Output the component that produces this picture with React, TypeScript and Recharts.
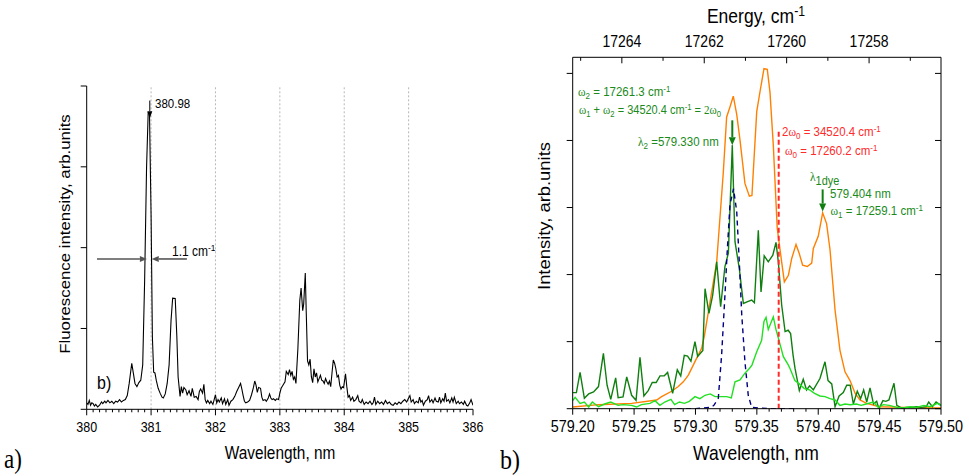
import React from 'react';
import { LineChart, Line, XAxis, YAxis, ReferenceLine } from 'recharts';

const FONT = "Arial, 'Liberation Sans', Helvetica, sans-serif";
const SERIF = "'Times New Roman', 'Liberation Serif', serif";
const STRETCH = 1.15; // the source figure is a bit taller than wide, text too

// ---- panel a) fluorescence spectrum
const aWavelength = [
    380.00, 380.02, 380.04, 380.06, 380.08, 380.10, 380.12, 380.14, 380.17, 380.20, 380.23, 380.25, 380.28, 380.30,
    380.33, 380.36, 380.39, 380.42, 380.45, 380.48, 380.51, 380.54, 380.57, 380.60, 380.63, 380.66, 380.70, 380.72,
    380.75, 380.78, 380.81, 380.84, 380.87, 380.90, 380.93, 380.955, 380.975, 381.00, 381.02, 381.04, 381.06, 381.08,
    381.11, 381.14, 381.17, 381.19, 381.22, 381.25, 381.28, 381.31, 381.335, 381.375, 381.40, 381.42, 381.45, 381.47,
    381.49, 381.51, 381.54, 381.56, 381.59, 381.62, 381.64, 381.67, 381.70, 381.73, 381.75, 381.77, 381.80, 381.82,
    381.84, 381.86, 381.88, 381.91, 381.93, 381.96, 381.98, 382.00, 382.02, 382.04, 382.06, 382.09, 382.11, 382.14,
    382.16, 382.19, 382.21, 382.24, 382.27, 382.30, 382.33, 382.36, 382.39, 382.41, 382.43, 382.45, 382.47, 382.50,
    382.53, 382.56, 382.59, 382.61, 382.63, 382.65, 382.67, 382.70, 382.72, 382.74, 382.77, 382.79, 382.82, 382.84,
    382.86, 382.88, 382.90, 382.93, 382.95, 382.98, 383.00, 383.02, 383.05, 383.08, 383.10, 383.13, 383.15, 383.17,
    383.19, 383.21, 383.23, 383.25, 383.28, 383.31, 383.33, 383.355, 383.37, 383.395, 383.41, 383.43, 383.45, 383.47,
    383.49, 383.51, 383.53, 383.55, 383.57, 383.59, 383.61, 383.63, 383.65, 383.67, 383.69, 383.71, 383.73, 383.75,
    383.77, 383.79, 383.81, 383.83, 383.85, 383.87, 383.89, 383.91, 383.93, 383.95, 383.97, 383.99, 384.02, 384.04,
    384.06, 384.08, 384.10, 384.13, 384.15, 384.18, 384.21, 384.23, 384.26, 384.28, 384.31, 384.34, 384.37, 384.40,
    384.43, 384.45, 384.47, 384.49, 384.52, 384.55, 384.58, 384.61, 384.64, 384.67, 384.70, 384.73, 384.76, 384.79,
    384.82, 384.85, 384.88, 384.91, 384.94, 384.97, 385.00, 385.02, 385.04, 385.07, 385.09, 385.12, 385.15, 385.17,
    385.19, 385.21, 385.23, 385.26, 385.29, 385.31, 385.33, 385.36, 385.38, 385.41, 385.43, 385.46, 385.48, 385.50,
    385.53, 385.55, 385.57, 385.59, 385.62, 385.64, 385.67, 385.69, 385.71, 385.74, 385.77, 385.79, 385.82, 385.85,
    385.87, 385.90, 385.92, 385.95, 385.97, 386.00
];
const aIntensity = [
    0.08, 0.06, 0.11, 0.05, 0.08, 0.07, 0.04, 0.06, 0.03, 0.05, 0.09, 0.07, 0.10, 0.08,
    0.11, 0.08, 0.10, 0.07, 0.10, 0.09, 0.12, 0.09, 0.11, 0.12, 0.17, 0.32, 0.57, 0.47,
    0.32, 0.28, 0.33, 0.36, 0.55, 1.60, 3.00, 3.67, 3.67, 2.40, 0.90, 0.46, 0.45, 0.36,
    0.26, 0.20, 0.15, 0.14, 0.19, 0.32, 0.55, 1.10, 1.375, 1.37, 0.90, 0.40, 0.16, 0.28,
    0.20, 0.27, 0.24, 0.18, 0.23, 0.16, 0.26, 0.15, 0.16, 0.12, 0.22, 0.25, 0.20, 0.31,
    0.12, 0.08, 0.11, 0.07, 0.10, 0.06, 0.12, 0.18, 0.08, 0.12, 0.09, 0.14, 0.07, 0.13,
    0.06, 0.12, 0.05, 0.10, 0.12, 0.16, 0.22, 0.27, 0.32, 0.25, 0.17, 0.10, 0.08, 0.09,
    0.11, 0.18, 0.27, 0.35, 0.30, 0.21, 0.27, 0.26, 0.15, 0.11, 0.12, 0.10, 0.14, 0.19,
    0.14, 0.12, 0.13, 0.11, 0.13, 0.12, 0.20, 0.26, 0.30, 0.34, 0.47, 0.43, 0.49, 0.42,
    0.47, 0.37, 0.40, 0.32, 0.75, 1.35, 1.50, 1.22, 1.30, 1.685, 1.20, 0.60, 0.55, 0.62,
    0.40, 0.33, 0.50, 0.40, 0.45, 0.34, 0.38, 0.42, 0.36, 0.35, 0.32, 0.38, 0.34, 0.31,
    0.35, 0.28, 0.45, 0.61, 0.57, 0.50, 0.40, 0.42, 0.30, 0.25, 0.28, 0.27, 0.44, 0.28,
    0.15, 0.17, 0.11, 0.15, 0.10, 0.12, 0.17, 0.10, 0.08, 0.12, 0.06, 0.09, 0.07, 0.10,
    0.06, 0.08, 0.15, 0.06, 0.10, 0.07, 0.09, 0.06, 0.11, 0.07, 0.09, 0.06, 0.05, 0.08,
    0.06, 0.09, 0.07, 0.10, 0.12, 0.09, 0.14, 0.17, 0.09, 0.12, 0.07, 0.10, 0.08, 0.15,
    0.09, 0.11, 0.05, 0.10, 0.12, 0.17, 0.09, 0.12, 0.08, 0.14, 0.10, 0.09, 0.15, 0.08,
    0.13, 0.10, 0.20, 0.10, 0.12, 0.08, 0.14, 0.09, 0.15, 0.07, 0.10, 0.07, 0.09, 0.06,
    0.10, 0.05, 0.04, 0.08, 0.12, 0.05
];
const aTickLabels = [380, 381, 382, 383, 384, 385, 386];
const aGridLines = [381, 382, 383, 384, 385];
const aYTicks = [0, 1, 2, 3, 4];

// ---- panel b) three spectra + fitted line
const bOrangeWl = [
    579.200, 579.221, 579.248, 579.2684, 579.2724, 579.2806, 579.286, 579.2901, 579.2942, 579.2982, 579.3009, 579.305,
    579.3072, 579.3173, 579.3227, 579.3254, 579.3281, 579.3308, 579.3336, 579.3363, 579.3403, 579.3439, 579.346,
    579.3499, 579.3526, 579.3558, 579.3585, 579.3607, 579.3634, 579.3666, 579.3702, 579.3724, 579.3757, 579.3784,
    579.3819, 579.3846, 579.3873, 579.3911, 579.3947, 579.396, 579.400, 579.4036, 579.4068, 579.4096, 579.4137,
    579.4177, 579.4218, 579.4259, 579.430, 579.434, 579.4394, 579.450, 579.470, 579.500
];
const bOrangeInt = [
    0.025, 0.06, 0.08, 0.13, 0.18, 0.26, 0.33, 0.40, 0.50, 0.65, 0.75, 0.90,
    1.08, 2.19, 3.53, 4.35, 4.50, 4.66, 4.39, 4.00, 3.36, 3.17, 3.18,
    4.43, 4.73, 5.07, 5.06, 4.72, 3.93, 2.69, 2.19, 1.89, 1.99, 2.24,
    2.45, 2.31, 2.14, 2.12, 2.17, 2.39, 2.57, 2.92, 2.76, 2.37, 1.47,
    0.87, 0.55, 0.42, 0.23, 0.13, 0.08, 0.03, 0.02, 0.01
];
const bDarkWl = [
    579.200, 579.203, 579.206, 579.2095, 579.213, 579.217, 579.221, 579.225, 579.228, 579.231, 579.235, 579.237,
    579.241, 579.244, 579.248, 579.2516, 579.2548, 579.258, 579.2615, 579.2648, 579.268, 579.2711, 579.2746, 579.2773,
    579.2814, 579.2852, 579.288, 579.2909, 579.2936, 579.2963, 579.2996, 579.3018, 579.306, 579.3078, 579.311, 579.314,
    579.3173, 579.3205, 579.324, 579.3268, 579.330, 579.3322, 579.3357, 579.339, 579.343, 579.3458, 579.348, 579.3512,
    579.3534, 579.356, 579.3593, 579.363, 579.3656, 579.3675, 579.3702, 579.373, 579.3755, 579.3775, 579.3795,
    579.3811, 579.3846, 579.3878, 579.3905, 579.393, 579.396, 579.4014, 579.4055, 579.408, 579.411, 579.4137, 579.417,
    579.4204, 579.4232, 579.426, 579.4286, 579.4318, 579.4345, 579.437, 579.4395, 579.4422, 579.445, 579.4476,
    579.4494, 579.4527, 579.455, 579.4576, 579.4617, 579.464, 579.468, 579.472, 579.476, 579.480, 579.484, 579.488,
    579.490, 579.493, 579.496, 579.500
];
const bDarkInt = [
    0.24, 0.24, 0.54, 0.155, 0.22, 0.25, 0.33, 0.825, 0.35, 0.14, 0.46, 0.165,
    0.175, 0.475, 0.20, 0.125, 0.765, 0.19, 0.27, 0.39, 0.39, 0.49, 0.49, 0.54,
    0.23, 0.58, 0.49, 0.795, 0.785, 0.71, 1.00, 0.78, 0.87, 1.79, 1.42, 1.69,
    2.19, 1.52, 2.12, 2.32, 3.93, 2.49, 2.09, 1.57, 1.60, 1.62, 1.58, 2.66,
    1.74, 2.28, 2.19, 2.29, 2.48, 2.19, 1.55, 1.15, 1.17, 1.12, 0.80,
    0.60, 0.27, 0.44, 0.28, 0.34, 0.28, 0.45, 0.70, 0.42, 0.37, 0.03, 0.19,
    0.24, 0.35, 0.35, 0.07, 0.26, 0.15, 0.28, 0.10, 0.31, 0.07, 0.11,
    0.00, 0.12, 0.11, 0.13, 0.38, 0.05, 0.01, 0.02, 0.02, 0.03, 0.02, 0.03,
    0.10, 0.03, 0.10, 0.05
];
const bLightWl = [
    579.200, 579.202, 579.206, 579.2095, 579.213, 579.216, 579.221, 579.226, 579.231, 579.237, 579.241, 579.248,
    579.252, 579.256, 579.263, 579.267, 579.271, 579.275, 579.280, 579.283, 579.287, 579.291, 579.295, 579.2996,
    579.3036, 579.3078, 579.312, 579.316, 579.320, 579.3254, 579.3292, 579.3322, 579.3363, 579.3403, 579.3439, 579.346,
    579.3499, 579.3539, 579.3558, 579.3575, 579.3593, 579.3634, 579.3656, 579.3683, 579.3716, 579.3757, 579.377,
    579.381, 579.3846, 579.3887, 579.393, 579.397, 579.4014, 579.4055, 579.4096, 579.4137, 579.4177, 579.4218,
    579.426, 579.431, 579.435, 579.439, 579.445, 579.449, 579.453, 579.458, 579.464, 579.469, 579.475, 579.480,
    579.486, 579.491, 579.497, 579.500
];
const bLightInt = [
    0.12, 0.17, 0.08, 0.10, 0.025, 0.10, 0.03, 0.07, 0.10, 0.05, 0.06, 0.05,
    0.025, 0.06, 0.08, 0.12, 0.05, 0.10, 0.14, 0.06, 0.10, 0.08, 0.11, 0.18,
    0.15, 0.20, 0.22, 0.18, 0.18, 0.18, 0.16, 0.40, 0.43, 0.53, 0.60, 0.65,
    0.85, 1.02, 1.30, 1.36, 1.18, 1.37, 1.18, 1.00, 0.775, 0.65, 0.60,
    0.42, 0.37, 0.30, 0.28, 0.23, 0.19, 0.18, 0.15, 0.13, 0.05, 0.07,
    0.06, 0.07, 0.05, 0.07, 0.10, 0.02, 0.06, 0.05, 0.02, 0.01, 0.03, 0.02,
    0.05, 0.03, 0.08, 0.05
];
const bFitWl = [
    579.285, 579.300, 579.312, 579.315, 579.3186, 579.3213, 579.324, 579.326, 579.3281, 579.331, 579.3336,
    579.3357, 579.3377, 579.3403, 579.343, 579.3458, 579.360, 579.382
];
const bFitInt = [0, 0, 0.02, 0.05, 0.155, 0.8, 1.69, 2.39, 3.04, 3.28, 2.94, 2.19, 1.40, 0.70, 0.20, 0.02, 0, 0];
const bOmega0Wl = 579.3678;
const bOmega0Top = 4.14;
const bTickLabels = [579.2, 579.25, 579.3, 579.35, 579.4, 579.45, 579.5];
const bEnergyTicks = [17265, 17264, 17263, 17262, 17261, 17260, 17259, 17258, 17257];
const bYTicks = [0, 1, 2, 3, 4, 5];

const zip = (xs: number[], ys: number[]) => xs.map((x, i) => ({ x, y: ys[i] }));

const aData = zip(aWavelength, aIntensity);
const aTicks = Array.from({ length: 61 }, (_, i) => (3800 + i) / 10);
const bTicks = Array.from({ length: 31 }, (_, i) => (57920 + i) / 100);
const bTopTicks = bEnergyTicks.map(e => 1e7 / e);

const DARK_GREEN = '#0f7f0f';
const TEXT_GREEN = '#1b8a1b';
const RED = '#ff2a2a';

// tick mark + label, ticks drawn by hand so major/minor can differ in length
const makeTick = (opts: {
    isMajor: (v: number) => boolean;
    label: (v: number) => string;
    size: number;
    dir: 1 | -1; // tick line direction (down = 1)
    labelDy: number;
    major: number;
    minor: number;
}) => (props: any) => {
    const { x, y, payload } = props;
    const v = payload.value;
    const major = opts.isMajor(v);
    return (
        <g>
            <line x1={x} y1={y} x2={x} y2={y + opts.dir * (major ? opts.major : opts.minor)} stroke="#000" strokeWidth={1} />
            {major && (
                <text
                    transform={`translate(${x} ${y + opts.labelDy}) scale(1 ${STRETCH})`}
                    textAnchor="middle"
                    fontSize={opts.size}
                    fontFamily={FONT}
                    fill="#000"
                >
                    {opts.label(v)}
                </text>
            )}
        </g>
    );
};

const arrowShape = (color: string, width: number, hl: number, hw: number) => (p: any) => {
    const { x1, y1, x2, y2 } = p;
    const dx = x2 - x1;
    const dy = y2 - y1;
    const len = Math.hypot(dx, dy) || 1;
    const ux = dx / len;
    const uy = dy / len;
    const bx = x2 - ux * hl;
    const by = y2 - uy * hl;
    const pts = `${x2},${y2} ${bx - uy * hw},${by + ux * hw} ${bx + uy * hw},${by - ux * hw}`;
    return (
        <g>
            <line x1={x1} y1={y1} x2={bx} y2={by} stroke={color} strokeWidth={width} />
            <polygon points={pts} fill={color} />
        </g>
    );
};

const Txt: React.FC<{
    x: number; y: number; size: number; color?: string; family?: string; center?: boolean; children: React.ReactNode;
}> = ({ x, y, size, color = '#000', family = FONT, center = false, children }) => (
    <div
        style={{
            position: 'absolute',
            left: x,
            top: y - 0.56 * size,
            fontSize: size,
            lineHeight: 1,
            color,
            fontFamily: family,
            whiteSpace: 'nowrap',
            transform: `${center ? 'translateX(-50%) ' : ''}scaleY(${STRETCH})`,
            transformOrigin: 'left top'
        }}
    >
        {children}
    </div>
);

const VTxt: React.FC<{ x: number; y: number; size: number; children: React.ReactNode }> = ({ x, y, size, children }) => (
    <div
        style={{
            position: 'absolute',
            left: x,
            top: y,
            fontSize: size,
            lineHeight: 1,
            fontFamily: FONT,
            whiteSpace: 'nowrap',
            transform: `translate(-50%, -50%) rotate(-90deg) scaleX(${STRETCH})`
        }}
    >
        {children}
    </div>
);

const Sub = ({ children, s = 0.7 }: { children: React.ReactNode; s?: number }) => (
    <span style={{ fontSize: `${s}em`, verticalAlign: '-0.3em', lineHeight: 0 }}>{children}</span>
);
const Sup = ({ children }: { children: React.ReactNode }) => (
    <span style={{ fontSize: '0.7em', verticalAlign: '0.5em', lineHeight: 0 }}>{children}</span>
);
const W = ({ children }: { children: React.ReactNode }) => <span style={{ fontFamily: SERIF }}>{children}</span>;

const PanelA = () => (
    <LineChart width={490} height={476} margin={{ top: 86, right: 17, bottom: 36.7, left: 76.7 }}>
        <XAxis
            type="number"
            dataKey="x"
            domain={[380, 386]}
            ticks={aTicks}
            interval={0}
            allowDataOverflow
            height={30}
            tickSize={0}
            tickMargin={0}
            tickLine={false}
            axisLine={{ stroke: '#000' }}
            tick={makeTick({
                isMajor: v => aTickLabels.includes(v),
                label: v => String(v),
                size: 12.5,
                dir: 1,
                labelDy: 22.5,
                major: 6,
                minor: 3
            })}
        />
        <YAxis
            type="number"
            domain={[0, 4]}
            ticks={aYTicks}
            allowDataOverflow
            width={10}
            tickSize={6}
            tickFormatter={() => ''}
            axisLine={{ stroke: '#000' }}
            tickLine={{ stroke: '#000' }}
        />
        {aGridLines.map(v => (
            <ReferenceLine key={v} x={v} stroke="#b8b8b8" strokeDasharray="2 2" />
        ))}
        <Line data={aData} dataKey="y" type="linear" stroke="#000" strokeWidth={1.1} dot={false} isAnimationActive={false} />
        <ReferenceLine segment={[{ x: 380.98, y: 3.82 }, { x: 380.98, y: 3.6 }]} shape={arrowShape('#000', 1, 7, 2.5)} />
        <ReferenceLine segment={[{ x: 380.16, y: 1.86 }, { x: 380.935, y: 1.86 }]} shape={arrowShape('#555', 1.6, 7, 3)} />
        <ReferenceLine segment={[{ x: 381.556, y: 1.86 }, { x: 381.01, y: 1.86 }]} shape={arrowShape('#555', 1.6, 7, 3)} />
    </LineChart>
);

// the mirrored right axis reserves no room, so its 10px go into the right margin
const PanelB = () => (
    <LineChart width={469} height={476} margin={{ top: 27.3, right: 28, bottom: 37.3, left: 62.7 }}>
        <XAxis
            type="number"
            dataKey="x"
            domain={[579.2, 579.5]}
            ticks={bTicks}
            interval={0}
            allowDataOverflow
            height={30}
            tickSize={0}
            tickMargin={0}
            tickLine={false}
            axisLine={{ stroke: '#000' }}
            tick={makeTick({
                isMajor: v => Math.round(v * 100) % 5 === 0,
                label: v => v.toFixed(2),
                size: 14.4,
                dir: 1,
                labelDy: 23.5,
                major: 6,
                minor: 3
            })}
        />
        <XAxis
            xAxisId="top"
            orientation="top"
            type="number"
            dataKey="x"
            domain={[579.2, 579.5]}
            ticks={bTopTicks}
            interval={0}
            allowDataOverflow
            height={30}
            tickSize={0}
            tickMargin={0}
            tickLine={false}
            axisLine={{ stroke: '#000' }}
            tick={makeTick({
                isMajor: v => Math.round(1e7 / v) % 2 === 0,
                label: v => String(Math.round(1e7 / v)),
                size: 14,
                dir: 1,
                labelDy: -10.6,
                major: 6,
                minor: 3.5
            })}
        />
        <YAxis
            type="number"
            domain={[0, 5.24]}
            ticks={bYTicks}
            allowDataOverflow
            width={10}
            tickSize={6}
            tickFormatter={() => ''}
            axisLine={{ stroke: '#000' }}
            tickLine={{ stroke: '#000' }}
        />
        <YAxis
            yAxisId="r"
            orientation="right"
            type="number"
            domain={[0, 5.24]}
            ticks={bYTicks}
            allowDataOverflow
            width={10}
            mirror
            tickSize={6}
            tickFormatter={() => ''}
            axisLine={{ stroke: '#000' }}
            tickLine={{ stroke: '#000' }}
        />
        <Line data={zip(bOrangeWl, bOrangeInt)} dataKey="y" type="linear" stroke="#ff8000" strokeWidth={1.4} dot={false} isAnimationActive={false} />
        <Line data={zip(bDarkWl, bDarkInt)} dataKey="y" type="linear" stroke={DARK_GREEN} strokeWidth={1.4} dot={false} isAnimationActive={false} />
        <Line data={zip(bLightWl, bLightInt)} dataKey="y" type="linear" stroke="#22e022" strokeWidth={1.4} dot={false} isAnimationActive={false} />
        <Line data={zip(bFitWl, bFitInt)} dataKey="y" type="linear" stroke="#000080" strokeWidth={1.4} strokeDasharray="5 4" dot={false} isAnimationActive={false} />
        <ReferenceLine
            segment={[{ x: bOmega0Wl, y: 0 }, { x: bOmega0Wl, y: bOmega0Top }]}
            stroke={RED}
            strokeWidth={2}
            strokeDasharray="5 3"
        />
        <ReferenceLine segment={[{ x: 579.330, y: 4.3 }, { x: 579.330, y: 3.93 }]} shape={arrowShape(DARK_GREEN, 2, 8, 3.5)} />
        <ReferenceLine segment={[{ x: 579.4036, y: 3.27 }, { x: 579.4036, y: 2.94 }]} shape={arrowShape(DARK_GREEN, 2, 8, 3.5)} />
    </LineChart>
);

export default function App() {
    return (
        <div style={{ position: 'absolute', left: 0, top: 0, width: 969, height: 476, background: '#fff', fontFamily: FONT, overflow: 'hidden' }}>
            <div style={{ position: 'absolute', left: 0, top: 0 }}>
                <PanelA />
            </div>
            <div style={{ position: 'absolute', left: 500, top: 0 }}>
                <PanelB />
            </div>

            {/* panel a texts */}
            <VTxt x={65} y={234} size={14.6}>Fluorescence intensity, arb.units</VTxt>
            <Txt x={280} y={452.5} size={15.4} center>Wavelength, nm</Txt>
            <Txt x={155} y={104.5} size={11.5}>380.98</Txt>
            <Txt x={172} y={250.5} size={12}>1.1 cm<Sup>-1</Sup></Txt>
            <Txt x={97} y={382.5} size={16}>b)</Txt>
            <Txt x={4} y={459} size={23} family={SERIF}>a)</Txt>

            {/* panel b texts */}
            <Txt x={756} y={16.7} size={17.5} center>Energy, cm<Sup>-1</Sup></Txt>
            <VTxt x={545} y={216} size={16}>Intensity, arb.units</VTxt>
            <Txt x={756} y={454} size={17.5} center>Wavelength, nm</Txt>
            <Txt x={500} y={459} size={24} family={SERIF}>b)</Txt>

            <Txt x={578} y={92.5} size={11.5} color={TEXT_GREEN}>
                <W>ω</W><Sub>2</Sub> = 17261.3 cm<Sup>-1</Sup>
            </Txt>
            <Txt x={579} y={110.5} size={11} color={TEXT_GREEN}>
                <W>ω</W><Sub>1</Sub> + <W>ω</W><Sub>2</Sub> = 34520.4 cm<Sup>-1</Sup> = <W>2ω</W><Sub>0</Sub>
            </Txt>
            <Txt x={638} y={142} size={11.5} color={TEXT_GREEN}>
                <W>λ</W><Sub>2</Sub> =579.330 nm
            </Txt>
            <Txt x={782} y={132} size={11.5} color={RED}>
                2<W>ω</W><Sub>0</Sub> = 34520.4 cm<Sup>-1</Sup>
            </Txt>
            <Txt x={785} y={151} size={11.5} color={RED}>
                <W>ω</W><Sub>0</Sub> = 17260.2 cm<Sup>-1</Sup>
            </Txt>
            <Txt x={810} y={177.5} size={11.5} color={TEXT_GREEN}>
                <W>λ</W><Sub s={0.95}>1dye</Sub>
            </Txt>
            <Txt x={830} y={194.5} size={11.5} color={TEXT_GREEN}>579.404 nm</Txt>
            <Txt x={830.5} y={211.5} size={11.5} color={TEXT_GREEN}>
                <W>ω</W><Sub>1</Sub> = 17259.1 cm<Sup>-1</Sup>
            </Txt>
        </div>
    );
}
